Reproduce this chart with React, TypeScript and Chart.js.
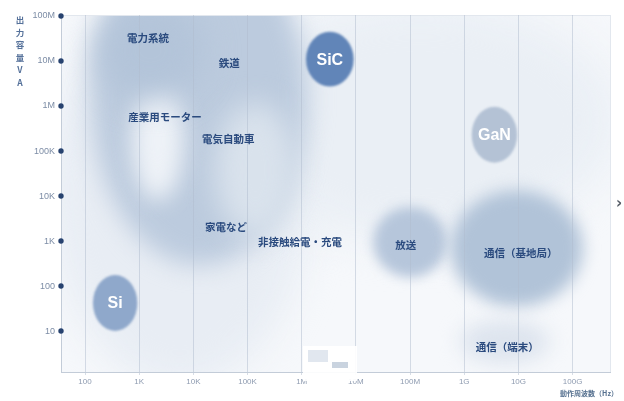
import React, { useEffect, useRef } from 'react';
import { Chart, registerables } from 'chart.js';
Chart.register(...registerables);

// Axis ticks
const xTickValues = [1e2, 1e3, 1e4, 1e5, 1e6, 1e7, 1e8, 1e9, 1e10, 1e11];
const xTickLabels = ['100', '1K', '10K', '100K', '1M', '10M', '100M', '1G', '10G', '100G'];
const yTickValues = [1e1, 1e2, 1e3, 1e4, 1e5, 1e6, 1e7, 1e8];
const yTickLabels = ['10', '100', '1K', '10K', '100K', '1M', '10M', '100M'];

// Soft application regions: centre frequency (Hz), centre capacity (VA), half spans in decades
const blobX = [5.6e3, 1.5e8, 1.3e4, 2.2e3, 1.4e5, 1.6e3, 1.0e8, 9.3e9, 5.6e9];
const blobY = [1.35e4, 4.9e5, 1.35e6, 1.7e5, 3.8e4, 1.7e7, 950, 690, 5.8];
const blobRx = [2.4, 3.7, 2.0, 0.48, 0.75, 1.0, 0.68, 1.22, 0.83];
const blobRy = [4.4, 2.7, 3.67, 1.33, 1.5, 1.1, 0.78, 1.29, 0.49];
const blobColor = ['#e8edf4', '#eaeff5', '#bccbde', '#eef2f7', '#d9e2ec', '#b3c4d9', '#b6c6db', '#b1c3d8', '#dde4ee'];
const blobBlur = [18, 22, 12, 11, 14, 16, 6, 8, 10];

// Semiconductor material circles
const materialNames = ['SiC', 'GaN', 'Si'];
const materialX = [3.3e6, 3.6e9, 360];
const materialY = [1.1e7, 2.3e5, 42];
const materialRx = [0.44, 0.42, 0.41];
const materialRy = [0.61, 0.62, 0.62];
const materialColor = ['#6185b8', '#b4c2d5', '#8fa8cb'];

// Application labels
const appNames = ['電力系統', '鉄道', '産業用モーター', '電気自動車', '家電など', '非接触給電・充電', '放送', '通信（基地局）', '通信（端末）'];
const appX = [1.45e3, 4.6e4, 3.0e3, 4.4e4, 4.0e4, 9.3e5, 8.3e7, 1.1e10, 6.2e9];
const appY = [3.2e7, 9.1e6, 5.7e5, 1.85e5, 2.0e3, 960, 810, 540, 4.4];

const yTitleChars = ['出', '力', '容', '量', 'V', 'A'];
const xTitle = '動作周波数（Hz）';

const JP = '"Noto Sans CJK JP", "Noto Sans", sans-serif';

const decorPlugin = {
  id: 'decor',
  beforeDraw(chart: any) {
    const { ctx, chartArea: a, scales } = chart;
    const x = scales.x, y = scales.y;
    ctx.save();
    ctx.fillStyle = '#ffffff';
    ctx.fillRect(0, 0, chart.width, chart.height);
    ctx.beginPath();
    ctx.rect(a.left, a.top, a.right - a.left, a.bottom - a.top);
    ctx.clip();
    ctx.fillStyle = '#f6f8fb';
    ctx.fillRect(a.left, a.top, a.right - a.left, a.bottom - a.top);
    for (let i = 0; i < blobX.length; i++) {
      const cx = x.getPixelForValue(blobX[i]);
      const cy = y.getPixelForValue(blobY[i]);
      const rx = x.getPixelForValue(blobX[i] * Math.pow(10, blobRx[i])) - cx;
      const ry = cy - y.getPixelForValue(blobY[i] * Math.pow(10, blobRy[i]));
      ctx.filter = `blur(${blobBlur[i]}px)`;
      ctx.fillStyle = blobColor[i];
      ctx.beginPath();
      ctx.ellipse(cx, cy, Math.abs(rx), Math.abs(ry), 0, 0, Math.PI * 2);
      ctx.fill();
    }
    ctx.filter = 'none';
    ctx.restore();
    ctx.save();
    ctx.strokeStyle = '#e2e7ee';
    ctx.lineWidth = 1;
    ctx.strokeRect(a.left + 0.5, a.top + 0.5, a.right - a.left, a.bottom - a.top);
    ctx.restore();
  },
  afterDatasetsDraw(chart: any) {
    const { ctx, scales } = chart;
    const x = scales.x, y = scales.y;
    ctx.save();
    // material circles
    for (let i = 0; i < materialNames.length; i++) {
      const cx = x.getPixelForValue(materialX[i]);
      const cy = y.getPixelForValue(materialY[i]);
      const rx = x.getPixelForValue(materialX[i] * Math.pow(10, materialRx[i])) - cx;
      const ry = cy - y.getPixelForValue(materialY[i] * Math.pow(10, materialRy[i]));
      ctx.filter = 'blur(1.2px)';
      ctx.fillStyle = materialColor[i];
      ctx.beginPath();
      ctx.ellipse(cx, cy, rx, ry, 0, 0, Math.PI * 2);
      ctx.fill();
      ctx.filter = 'none';
      ctx.fillStyle = '#ffffff';
      ctx.font = 'bold 16px "Liberation Sans", Arial, sans-serif';
      ctx.textAlign = 'center';
      ctx.textBaseline = 'middle';
      ctx.fillText(materialNames[i], cx, cy + 1);
    }
    // application labels from dataset points
    const meta = chart.getDatasetMeta(0);
    ctx.fillStyle = '#2a4a7e';
    ctx.font = `bold 10.5px ${JP}`;
    ctx.textAlign = 'center';
    ctx.textBaseline = 'middle';
    meta.data.forEach((pt: any, i: number) => {
      ctx.fillText(appNames[i], pt.x, pt.y);
    });
    ctx.restore();
  },
  afterDraw(chart: any) {
    const { ctx, chartArea: a, scales } = chart;
    const y = scales.y;
    ctx.save();
    // tick dots
    ctx.fillStyle = '#27426f';
    yTickValues.forEach((v) => {
      const py = y.getPixelForValue(v);
      ctx.beginPath();
      ctx.arc(a.left, py, 2.7, 0, Math.PI * 2);
      ctx.fill();
    });
    // y title (vertical)
    ctx.fillStyle = '#55719a';
    ctx.font = `bold 8.5px ${JP}`;
    ctx.textAlign = 'center';
    ctx.textBaseline = 'middle';
    yTitleChars.forEach((c, i) => {
      ctx.fillText(c, 20, 20 + i * 12.5);
    });
    // x title
    ctx.fillStyle = '#55708f';
    ctx.font = `bold 7px ${JP}`;
    ctx.textAlign = 'right';
    ctx.fillText(xTitle, 618, 393);
    // right arrow glyph
    ctx.fillStyle = '#555c66';
    ctx.font = 'bold 15px "DejaVu Sans", sans-serif';
    ctx.textAlign = 'center';
    ctx.fillText('›', 619, 204);
    // small thumbnail overlay
    ctx.fillStyle = 'rgba(255,255,255,0.92)';
    ctx.fillRect(303, 346, 54, 35);
    ctx.fillStyle = '#e1e7ef';
    ctx.fillRect(308, 350, 20, 12);
    ctx.fillStyle = '#c9d3df';
    ctx.fillRect(332, 362, 16, 6);
    ctx.restore();
  },
};

export default function App() {
  const ref = useRef<HTMLCanvasElement | null>(null);
  useEffect(() => {
    if (!ref.current) return;
    const chart = new Chart(ref.current, {
      type: 'scatter',
      data: {
        datasets: [
          {
            label: 'apps',
            data: appX.map((v, i) => ({ x: v, y: appY[i] })),
            pointRadius: 0,
            pointHoverRadius: 0,
          },
        ],
      },
      options: {
        animation: false,
        responsive: true,
        maintainAspectRatio: false,
        events: [],
        layout: { padding: { top: 15, right: 14, left: 0, bottom: 0 } },
        plugins: { legend: { display: false }, tooltip: { enabled: false } },
        scales: {
          x: {
            type: 'logarithmic',
            min: Math.pow(10, 1.557),
            max: Math.pow(10, 11.69),
            afterBuildTicks: (s: any) => {
              s.ticks = xTickValues.map((v) => ({ value: v }));
            },
            afterFit: (s: any) => {
              s.height = 29;
            },
            ticks: {
              autoSkip: false,
              maxRotation: 0,
              padding: 2,
              color: '#8e9bb0',
              font: { size: 8, family: '"Liberation Sans", Arial, sans-serif' },
              callback: (_v: any, i: number) => xTickLabels[i],
            },
            grid: { display: true, color: 'rgba(175,188,206,0.5)', tickLength: 3, drawOnChartArea: true },
            border: { display: true, color: '#c3ccd8' },
          },
          y: {
            type: 'logarithmic',
            min: Math.pow(10, 0.09),
            max: Math.pow(10, 8 + 1 / 45),
            afterBuildTicks: (s: any) => {
              s.ticks = yTickValues.map((v) => ({ value: v }));
            },
            afterFit: (s: any) => {
              s.width = 61;
            },
            ticks: {
              autoSkip: false,
              padding: 6,
              color: '#7d8da6',
              font: { size: 9, family: '"Liberation Sans", Arial, sans-serif' },
              callback: (_v: any, i: number) => yTickLabels[i],
            },
            grid: { display: false, drawTicks: false },
            border: { display: true, color: '#c3ccd8' },
          },
        },
      },
      plugins: [decorPlugin],
    });
    return () => chart.destroy();
  }, []);
  return (
    <div style={{ position: 'absolute', left: 0, top: 0, width: 624, height: 401 }}>
      <canvas ref={ref} />
    </div>
  );
}
